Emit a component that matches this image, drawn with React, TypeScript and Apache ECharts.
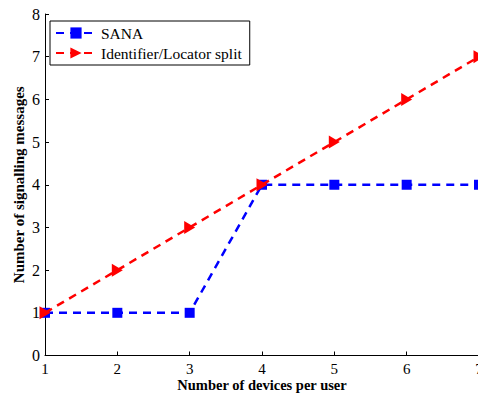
import React, { useEffect, useRef } from "react";
import * as echarts from "echarts";

const devices = [1, 2, 3, 4, 5, 6, 7];
const sana = [1, 1, 1, 4, 4, 4, 4];
const idLoc = [1, 2, 3, 4, 5, 6, 7];
const seriesNames = ["SANA", "Identifier/Locator split"];

const serif = "'Liberation Serif', 'Times New Roman', serif";

export default function App() {
  const ref = useRef<HTMLDivElement>(null);
  useEffect(() => {
    if (!ref.current) return;
    const chart = echarts.init(ref.current, undefined, { renderer: "svg" });
    chart.setOption({
      animation: false,
      backgroundColor: "#fff",
      textStyle: { fontFamily: serif },
      grid: {
        left: 45,
        right: -1,
        top: 14,
        bottom: 40.5,
        containLabel: false,
        outerBoundsMode: "none",
      },
      legend: {
        left: 50,
        top: 21,
        orient: "vertical",
        data: seriesNames,
        backgroundColor: "#fff",
        borderColor: "#000",
        borderWidth: 1,
        borderRadius: 0,
        padding: [4, 8, 4, 5],
        itemGap: 4,
        itemWidth: 40,
        itemHeight: 14,
        textStyle: { fontFamily: serif, fontSize: 15.5, color: "#000" },
      },
      xAxis: {
        type: "value",
        min: 1,
        max: 7,
        interval: 1,
        name: "Number of devices per user",
        nameLocation: "middle",
        nameGap: 22,
        nameMoveOverlap: false,
        nameTextStyle: {
          fontFamily: serif,
          fontSize: 14.5,
          fontWeight: "bold",
          color: "#000",
        },
        axisLine: { lineStyle: { color: "#000", width: 1 } },
        axisTick: { inside: true, length: 4, lineStyle: { color: "#000" } },
        axisLabel: { fontFamily: serif, fontSize: 15, color: "#000", margin: 6 },
        splitLine: { show: false },
      },
      yAxis: {
        type: "value",
        min: 0,
        max: 8,
        interval: 1,
        name: "Number of signalling messages",
        nameLocation: "middle",
        nameGap: 19,
        nameMoveOverlap: false,
        nameTextStyle: { fontFamily: serif, fontSize: 15, fontWeight: "bold", color: "#000" },
        axisLine: { show: true, lineStyle: { color: "#000", width: 1 } },
        axisTick: { show: true, inside: true, length: 4, lineStyle: { color: "#000" } },
        axisLabel: { fontFamily: serif, fontSize: 16, color: "#000", margin: 5 },
        splitLine: { show: false },
      },
      series: [
        {
          name: seriesNames[0],
          type: "line",
          data: devices.map((d, i) => [d, sana[i]]),
          color: "#0000ff",
          symbol: "rect",
          symbolSize: 10,
          lineStyle: { color: "#0000ff", width: 2.5, type: [8, 6] },
          itemStyle: { color: "#0000ff" },
          z: 2,
        },
        {
          name: seriesNames[1],
          type: "line",
          data: devices.map((d, i) => [d, idLoc[i]]),
          color: "#ff0000",
          symbol: "triangle",
          symbolRotate: -90,
          symbolSize: [13, 11],
          lineStyle: { color: "#ff0000", width: 2.5, type: [8, 6] },
          itemStyle: { color: "#ff0000" },
          z: 3,
        },
      ],
    });
    return () => chart.dispose();
  }, []);
  return (
    <div
      ref={ref}
      style={{ position: "absolute", left: 0, top: 0, width: 478, height: 396 }}
    />
  );
}
